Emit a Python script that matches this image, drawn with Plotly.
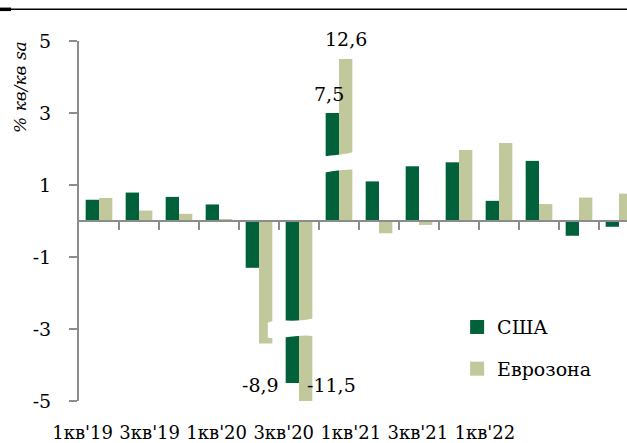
import plotly.graph_objects as go

# ---- data ----
quarters = ["1кв'19", "2кв'19", "3кв'19", "4кв'19", "1кв'20", "2кв'20", "3кв'20",
            "4кв'20", "1кв'21", "2кв'21", "3кв'21", "4кв'21", "1кв'22", "2кв'22"]
tick_labels = ["1кв'19", "3кв'19", "1кв'20", "3кв'20", "1кв'21", "3кв'21", "1кв'22"]

# actual values (% q/q sa)
usa = [0.59, 0.79, 0.67, 0.46, -1.3, -8.9, 7.5, 1.1, 1.52, 1.63, 0.56, 1.67, -0.41, -0.16]
ez = [0.64, 0.29, 0.2, 0.03, -3.4, -11.5, 12.6, -0.34, -0.11, 1.97, 2.17, 0.47, 0.65, 0.76]

# heights as drawn on the broken axis
usa_drawn = [0.59, 0.79, 0.67, 0.46, -1.3, -4.5, 3.0, 1.1, 1.52, 1.63, 0.56, 1.67, -0.41, -0.16]
ez_drawn = [0.64, 0.29, 0.2, 0.03, -3.4, -5.0, 4.5, -0.34, -0.11, 1.97, 2.17, 0.47, 0.65, 0.76]

y_ticks = [5, 3, 1, -1, -3, -5]

C_USA = "#00613A"
C_EZ = "#C0C89C"
FONT = "DejaVu Serif"
GRAY = "#8C8C8C"

x = list(range(len(quarters)))

fig = go.Figure()
fig.add_trace(go.Bar(x=x, y=usa_drawn, name="США", showlegend=False,
                     marker=dict(color=C_USA, line=dict(width=0)), hovertext=quarters))
fig.add_trace(go.Bar(x=x, y=ez_drawn, name="Еврозона", showlegend=False,
                     marker=dict(color=C_EZ, line=dict(width=0)), hovertext=quarters))
# legend entries with larger square keys
fig.add_trace(go.Scatter(x=[None], y=[None], mode="markers", name="США", legendgroup="a",
                         marker=dict(symbol="square", size=14, color=C_USA)))
fig.add_trace(go.Scatter(x=[None], y=[None], mode="markers", name="Еврозона", legendgroup="b",
                         marker=dict(symbol="square", size=14, color=C_EZ)))
# invisible trace to activate the zero-line axis
fig.add_trace(go.Scatter(x=[None], y=[None], xaxis="x2", showlegend=False, hoverinfo="skip"))

xr = [-0.5, 13.2]

fig.update_layout(
    width=627, height=443,
    margin=dict(l=79, r=0, t=41, b=42, autoexpand=False),
    paper_bgcolor="white", plot_bgcolor="white",
    barmode="group", bargap=1/3, bargroupgap=0,
    font=dict(family=FONT, color="black", size=17),
    showlegend=True,
    legend=dict(x=0.69, y=0.258, xanchor="left", yanchor="top",
                font=dict(family=FONT, size=19, color="black"),
                traceorder="grouped", tracegroupgap=14, itemwidth=30,
                bgcolor="rgba(0,0,0,0)"),
    xaxis=dict(range=xr, showgrid=False, zeroline=False, showline=False, automargin=False,
               tickmode="array",
               tickvals=[-0.41 + 1.676 * i for i in range(len(tick_labels))],
               ticktext=tick_labels,
               ticks="outside", ticklen=15, tickcolor="rgba(0,0,0,0)",
               tickfont=dict(family=FONT, size=18, color="black")),
    xaxis2=dict(range=xr, overlaying="x", anchor="free", position=0.5, side="bottom",
                showgrid=False, zeroline=False, showline=True, linecolor=GRAY, linewidth=2,
                automargin=False,
                tickmode="array", tickvals=[i + 0.5 for i in range(13)],
                ticks="outside", ticklen=8, tickwidth=2, tickcolor=GRAY,
                showticklabels=False),
    yaxis=dict(range=[-5, 5], showgrid=False, zeroline=False, showline=True, automargin=False,
               linecolor=GRAY, linewidth=2,
               tickmode="array", tickvals=y_ticks, ticktext=[str(v) for v in y_ticks],
               ticks="outside", ticklen=8, tickwidth=2, tickcolor=GRAY,
               ticklabelstandoff=14,
               tickfont=dict(family=FONT, size=19, color="black")),
)

# axis break bands (white wavy bands)
fig.add_shape(type="path", xref="x", yref="y",
              path="M 4.22,-2.82 C 4.5,-2.70 4.9,-2.84 5.37,-2.70 L 5.37,-3.20 "
                   "C 5.0,-3.12 4.6,-3.30 4.22,-3.24 Z",
              fillcolor="white", line=dict(width=0), layer="above")
fig.add_shape(type="path", xref="x", yref="y",
              path="M 5.62,1.79 C 5.85,1.84 6.1,1.82 6.40,1.93 L 6.40,1.44 "
                   "C 6.15,1.42 5.9,1.42 5.62,1.34 Z",
              fillcolor="white", line=dict(width=0), layer="above")

# top border line
fig.add_shape(type="line", xref="paper", yref="paper", x0=-79/548, x1=1, y0=1.088, y1=1.088,
              line=dict(color="black", width=1.5))
fig.add_shape(type="line", xref="paper", yref="paper", x0=-79/548, x1=-68/548, y0=1.088, y1=1.088,
              line=dict(color="black", width=3.5))

# y-axis title
fig.add_annotation(xref="paper", yref="paper", x=-0.108, y=0.872, text="<i>% кв/кв sa</i>",
                   xanchor="center", yanchor="middle",
                   textangle=-90, showarrow=False, font=dict(family=FONT, size=17, color="black"))

# value labels for broken bars
def fmt(v):
    return f"{v:.1f}".replace(".", ",")

i6 = quarters.index("3кв'20")
i5 = quarters.index("2кв'20")
fig.add_annotation(x=i6 - 1/6, y=usa_drawn[i6], text=fmt(usa[i6]), showarrow=False,
                   yanchor="bottom", yshift=6, xshift=-3, font=dict(size=19))
fig.add_annotation(x=i6 + 1/6, y=ez_drawn[i6], text=fmt(ez[i6]), showarrow=False,
                   yanchor="bottom", yshift=7, font=dict(size=19))
fig.add_annotation(x=i5 - 1/3, y=usa_drawn[i5], text=fmt(usa[i5]), showarrow=False,
                   xanchor="right", yanchor="middle", xshift=-5, yshift=-2, font=dict(size=19))
fig.add_annotation(x=i5 + 1/3, y=usa_drawn[i5], text=fmt(ez[i5]), showarrow=False,
                   xanchor="left", yanchor="middle", xshift=-7, yshift=-2, font=dict(size=19))

fig.write_html("out.html", config={"displayModeBar": False},
               post_script="document.body.style.margin='0';")
